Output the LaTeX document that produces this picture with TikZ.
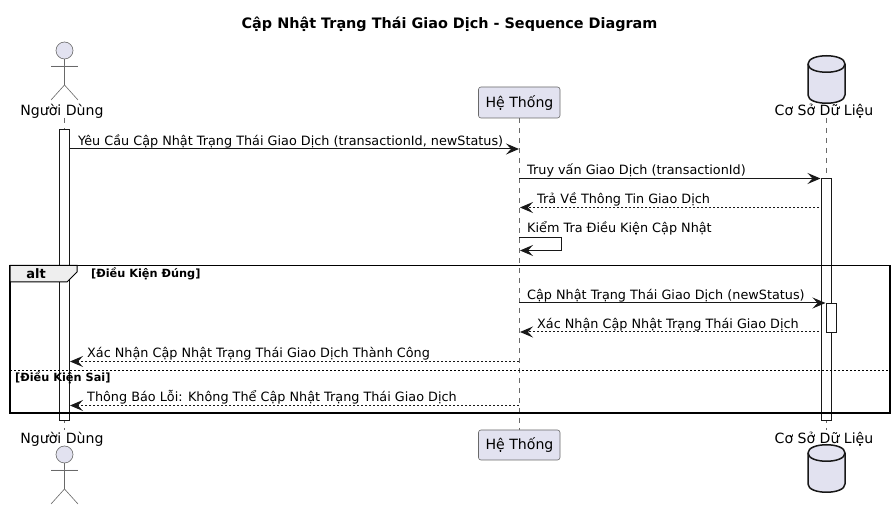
\documentclass[tikz,border=0pt]{standalone}
\usepackage{fontspec}
\setmainfont{DejaVu Sans}
\usetikzlibrary{arrows.meta}
\definecolor{lineColor}{RGB}{24,24,24}
\definecolor{thinColor}{RGB}{105,105,105}
\definecolor{participantColor}{RGB}{226,226,240}
\definecolor{tabColor}{RGB}{238,238,238}
\tikzstyle{sequence} = [x = 1pt, y = -1pt]
\tikzstyle{participantStyle} = [draw=thinColor, fill=participantColor, line width=.6pt]
\tikzstyle{lifeLine} = [color=thinColor, line width=.6pt, dash pattern=on 5pt off 5pt]
\tikzstyle{activationStyle} = [color=lineColor, fill=white, line width=1pt]
\tikzstyle{frameLine} = [color=black, line width=1.7pt]
\tikzstyle{messageLine} = [color=lineColor, line width=1pt, -{Stealth[length=13pt, width=11pt, inset=5pt]}]
\tikzstyle{replyLine} = [messageLine, dash pattern=on 2pt off 2pt]
\tikzstyle{messageText} = [font=\fontsize{12.8}{15}\selectfont, anchor=base west, inner sep=0pt]
\tikzstyle{nameText} = [font=\fontsize{14.1}{16}\selectfont, inner sep=0pt, anchor=base]
\tikzstyle{guardText} = [font=\fontsize{11.3}{13}\selectfont\bfseries, anchor=base west, inner sep=0pt]
\newcommand{\actorFigure}[2]{
  \node [circle, participantStyle, minimum size=17pt, inner sep=0pt] (#2Head) at (#1) {};
  \coordinate (#2Hip) at ([yshift=-34.5pt]#1);
  \draw [participantStyle] (#2Head.south) -- (#2Hip);
  \draw [participantStyle] ([shift={(-13.5pt,-15.5pt)}]#1) -- +(27pt,0);
  \draw [participantStyle, fill=none] ([shift={(-13.5pt,-49.5pt)}]#1) -- (#2Hip) -- ([shift={(13.5pt,-49.5pt)}]#1);
}
\newcommand{\databaseFigure}[2]{
  \filldraw [participantStyle, draw=lineColor, line width=1.5pt] (#1, #2 + 8) .. controls (#1, #2 - 3) and (#1 + 37, #2 - 3) .. (#1 + 37, #2 + 8) -- (#1 + 37, #2 + 39) .. controls (#1 + 37, #2 + 50) and (#1, #2 + 50) .. (#1, #2 + 39) -- cycle;
  \draw [color=lineColor, line width=1.5pt] (#1, #2 + 8) .. controls (#1, #2 + 19) and (#1 + 37, #2 + 19) .. (#1 + 37, #2 + 8);
}
\newcommand{\activationBar}[3]{\filldraw [activationStyle] (#1 - 5, #2) rectangle (#1 + 5, #3);}
% number, line style, from x, to x, y, text x, text
\newcommand{\messageArrow}[7]{
  \coordinate (message#1From) at (#3, #5);
  \coordinate (message#1To) at (#4, #5);
  \draw [#2] (message#1From) -- (message#1To);
  \node [messageText] (message#1Text) at (#6, #5 - 3.5) {#7};
}
\begin{document}
\begin{tikzpicture}[sequence]
  \useasboundingbox [fill=white] (0,0) rectangle (895,510);
  \node [font=\fontsize{14.4}{16}\selectfont\bfseries, inner sep=0pt, anchor=base] (diagramTitle) at (449.5, 29) {Cập Nhật Trạng Thái Giao Dịch - Sequence Diagram};

  % life lines
  \coordinate (userTop) at (64.5, 118);
  \coordinate (userBottom) at (64.5, 430);
  \coordinate (systemTop) at (519, 118);
  \coordinate (systemBottom) at (519, 430);
  \coordinate (dataTop) at (826, 118);
  \coordinate (dataBottom) at (826, 430);
  \draw [lifeLine] (userTop) -- (userBottom);
  \draw [lifeLine] (systemTop) -- (systemBottom);
  \draw [lifeLine] (dataTop) -- (dataBottom);

  % participants
  \actorFigure{64.5pt, -50.5pt}{userUpper}
  \node [nameText] (userUpperName) at (62, 115.5) {Người Dùng};
  \node [nameText] (userLowerName) at (62, 443.5) {Người Dùng};
  \actorFigure{64.5pt, -454.5pt}{userLower}
  \filldraw [participantStyle, rounded corners=2.5pt] (478.5, 87) rectangle (560, 118);
  \node [nameText] (systemUpperName) at (519.5, 107.5) {Hệ Thống};
  \filldraw [participantStyle, rounded corners=2.5pt] (478.5, 430) rectangle (560, 460);
  \node [nameText] (systemLowerName) at (519.5, 450) {Hệ Thống};
  \databaseFigure{808}{56}
  \node [nameText] (dataUpperName) at (824, 115.5) {Cơ Sở Dữ Liệu};
  \node [nameText] (dataLowerName) at (824, 443.5) {Cơ Sở Dữ Liệu};
  \databaseFigure{808}{445}

  % activations
  \activationBar{64.5}{129.5}{420.5}
  \activationBar{826}{178.5}{420.5}
  \activationBar{831}{303.5}{332.5}

  % alt frame
  \draw [frameLine] (10, 265.5) rectangle (890, 413);
  \filldraw [frameLine, fill=tabColor, line width=1pt] (10, 265.5) -- (77, 265.5) -- (77, 272) -- (67, 282) -- (10, 282) -- cycle;
  \node [font=\fontsize{13}{15}\selectfont\bfseries, inner sep=0pt, anchor=base] (altLabel) at (36, 278.5) {alt};
  \node [guardText] (guardTrue) at (91, 277.5) {[Điều Kiện Đúng]};
  \draw [color=black, line width=.7pt, dash pattern=on 2pt off 2pt] (10, 370.5) -- (890, 370.5);
  \node [guardText] (guardFalse) at (15, 381.5) {[Điều Kiện Sai]};

  % messages
  \messageArrow{One}{messageLine}{69.5}{519}{149}{78}{Yêu Cầu Cập Nhật Trạng Thái Giao Dịch (transactionId, newStatus)}
  \messageArrow{Two}{messageLine}{519}{820.5}{178.5}{527}{Truy vấn Giao Dịch (transactionId)}
  \messageArrow{Three}{replyLine}{819}{520}{207.5}{537}{Trả Về Thông Tin Giao Dịch}
  \coordinate (selfFrom) at (519, 237.5);
  \coordinate (selfCorner) at (561, 250.5);
  \coordinate (selfTo) at (520, 250.5);
  \draw [messageLine] (selfFrom) -| (selfCorner) -- (selfTo);
  \node [messageText] (selfText) at (527, 233) {Kiểm Tra Điều Kiện Cập Nhật};
  \messageArrow{Five}{messageLine}{519}{825.5}{303}{527}{Cập Nhật Trạng Thái Giao Dịch (newStatus)}
  \messageArrow{Six}{replyLine}{819}{520}{332}{537}{Xác Nhận Cập Nhật Trạng Thái Giao Dịch}
  \messageArrow{Seven}{replyLine}{519}{70}{361.5}{87}{Xác Nhận Cập Nhật Trạng Thái Giao Dịch Thành Công}
  \messageArrow{Eight}{replyLine}{519}{70}{405.5}{87}{Thông Báo Lỗi: Không Thể Cập Nhật Trạng Thái Giao Dịch}
\end{tikzpicture}
\end{document}
